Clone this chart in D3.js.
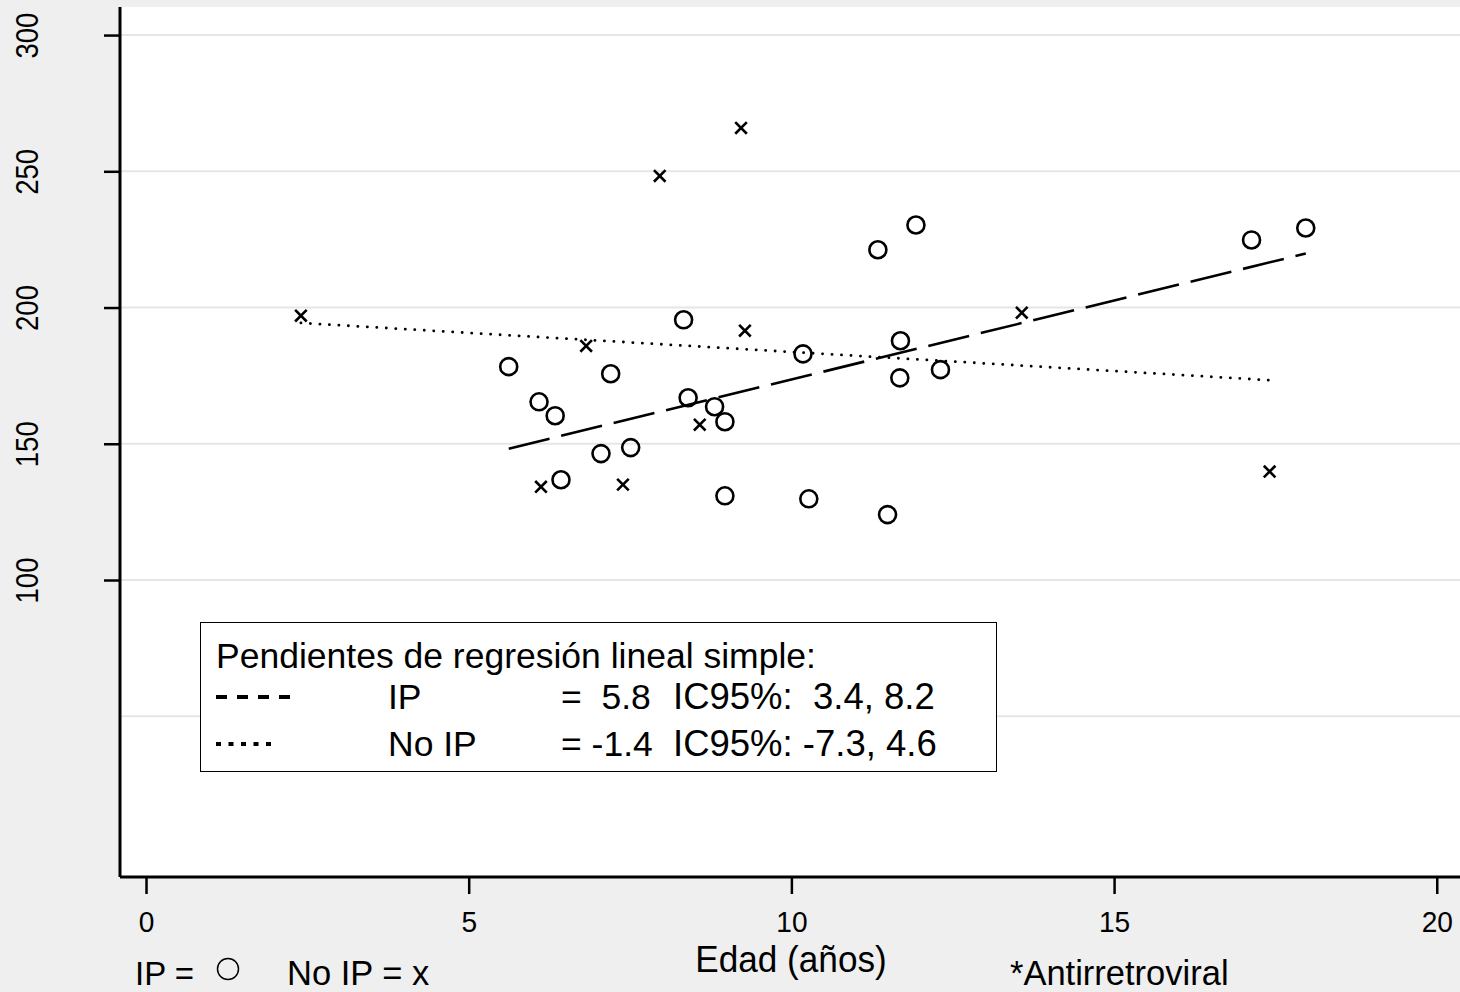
<!DOCTYPE html>
<html>
<head>
<meta charset="utf-8">
<script src="https://cdn.jsdelivr.net/npm/d3@7"></script>
<style>
  html, body { margin: 0; padding: 0; background: #efefef; }
  svg { display: block; font-family: "Liberation Sans", Arial, sans-serif; }
  text { white-space: pre; }
</style>
</head>
<body>
<svg id="chart" width="1460" height="992"></svg>
<script>
"use strict";

// IP group (circles): age in years, value
var ipAge = [5.62, 6.09, 6.34, 6.43, 7.05, 7.20, 7.51, 8.33, 8.40, 8.81, 8.97,
             8.97, 10.18, 10.27, 11.34, 11.49, 11.68, 11.69, 11.93, 12.31, 17.13, 17.97];
var ipVal = [178.3, 165.4, 160.3, 136.8, 146.4, 175.7, 148.6, 195.5, 166.9, 163.6, 158.1,
             130.9, 183.0, 129.8, 221.2, 124.0, 174.2, 187.8, 230.3, 177.2, 224.8, 229.2];

// No IP group (crosses)
var noIpAge = [2.40, 6.12, 6.82, 7.39, 7.96, 8.58, 9.22, 9.28, 13.57, 17.41];
var noIpVal = [197.0, 134.2, 185.9, 135.0, 248.3, 157.0, 265.9, 191.5, 198.1, 139.8];

// fitted lines: [intercept, slope]
var ipFit   = [115.6, 5.8];
var noIpFit = [197.7, -1.4];

var xTicks = [0, 5, 10, 15, 20];
var yTicks = [100, 150, 200, 250, 300];
var yGrid  = [50, 100, 150, 200, 250, 300];

var legendTitle = "Pendientes de regresión lineal simple:";
var legendRows = [
  { name: "IP",    slope: "=  5.8", ci: "IC95%:  3.4, 8.2", dash: "11,10",  w: 4, len: 75 },
  { name: "No IP", slope: "= -1.4", ci: "IC95%: -7.3, 4.6", dash: "5,7.5",  w: 4, len: 56 }
];

var W = 1460, H = 992;
var plot = { x0: 120, x1: 1460, y0: 7, y1: 877 };

var svg = d3.select("#chart");

var x = d3.scaleLinear().domain([-0.403, 20.36]).range([plot.x0, plot.x1]);
var y = d3.scaleLinear().domain([-9.0, 310.3]).range([plot.y1, plot.y0]);

// outer background + plot region
svg.append("rect").attr("width", W).attr("height", H).attr("fill", "#efefef");
svg.append("rect")
  .attr("x", plot.x0).attr("y", plot.y0)
  .attr("width", plot.x1 - plot.x0).attr("height", plot.y1 - plot.y0)
  .attr("fill", "#fff");

// gridlines
svg.append("g").selectAll("line")
  .data(yGrid).enter()
  .append("line")
    .attr("x1", plot.x0).attr("x2", plot.x1)
    .attr("y1", function(d) { return y(d); })
    .attr("y2", function(d) { return y(d); })
    .attr("stroke", "#e6e6e6")
    .attr("stroke-width", 2);

// y axis
var yAxis = d3.axisLeft(y).tickValues(yTicks).tickSize(16).tickPadding(0).tickFormat("");
var gy = svg.append("g")
  .attr("transform", "translate(" + plot.x0 + ",0)")
  .call(yAxis);
gy.select(".domain").attr("d", "M0," + plot.y0 + "V" + plot.y1)
  .attr("stroke", "#000").attr("stroke-width", 3);
gy.selectAll(".tick line").attr("stroke", "#000").attr("stroke-width", 2.5);
gy.selectAll(".tick").append("text")
  .attr("transform", "translate(-82,0) rotate(-90) scale(0.95,1.08)")
  .attr("text-anchor", "middle")
  .attr("fill", "#000")
  .style("font-size", "29px")
  .text(function(d) { return d; });

// x axis
var xAxis = d3.axisBottom(x).tickValues(xTicks).tickSize(17).tickPadding(0).tickFormat("");
var gx = svg.append("g")
  .attr("transform", "translate(0," + plot.y1 + ")")
  .call(xAxis);
gx.select(".domain").attr("d", "M" + plot.x0 + ",0H" + plot.x1)
  .attr("stroke", "#000").attr("stroke-width", 3);
gx.selectAll(".tick line").attr("stroke", "#000").attr("stroke-width", 2.5);
gx.selectAll(".tick").append("text")
  .attr("transform", "translate(0,55) scale(0.97,1)")
  .attr("text-anchor", "middle")
  .attr("fill", "#000")
  .style("font-size", "29px")
  .text(function(d) { return d; });

svg.append("text")
  .attr("transform", "translate(791,972) scale(0.95,1)")
  .attr("text-anchor", "middle")
  .style("font-size", "37px")
  .text("Edad (años)");

// regression lines
function fitLine(fit, ages) {
  var ext = d3.extent(ages);
  return ext.map(function(a) { return [a, fit[0] + fit[1] * a]; });
}
var line = d3.line()
  .x(function(d) { return x(d[0]); })
  .y(function(d) { return y(d[1]); });

svg.append("path")
  .datum(fitLine(ipFit, ipAge))
  .attr("d", line)
  .attr("fill", "none").attr("stroke", "#000")
  .attr("stroke-width", 2.6)
  .attr("stroke-dasharray", "42,12");

svg.append("path")
  .datum(fitLine(noIpFit, noIpAge))
  .attr("d", line)
  .attr("fill", "none").attr("stroke", "#000")
  .attr("stroke-width", 2.8)
  .attr("stroke-linecap", "round")
  .attr("stroke-dasharray", "0.1,9.4");

// IP circles
svg.append("g").selectAll("circle")
  .data(d3.zip(ipAge, ipVal)).enter()
  .append("circle")
    .attr("cx", function(d) { return x(d[0]); })
    .attr("cy", function(d) { return y(d[1]); })
    .attr("r", 8.5)
    .attr("fill", "none")
    .attr("stroke", "#000")
    .attr("stroke-width", 2.6);

// No IP crosses
var cs = 5.8;
svg.append("g").selectAll("path")
  .data(d3.zip(noIpAge, noIpVal)).enter()
  .append("path")
    .attr("d", function(d) {
      var cx = x(d[0]), cy = y(d[1]);
      return "M" + (cx - cs) + "," + (cy - cs) + "L" + (cx + cs) + "," + (cy + cs)
           + "M" + (cx - cs) + "," + (cy + cs) + "L" + (cx + cs) + "," + (cy - cs);
    })
    .attr("stroke", "#000")
    .attr("stroke-width", 2.6);

// legend box
var lg = svg.append("g").attr("transform", "translate(200,622)");
lg.append("rect")
  .attr("x", 0.5).attr("y", 0.5)
  .attr("width", 796).attr("height", 149)
  .attr("fill", "#fff")
  .attr("stroke", "#000")
  .attr("stroke-width", 1);
lg.append("text")
  .attr("x", 16).attr("y", 46)
  .style("font-size", "35.5px")
  .text(legendTitle);

var rows = lg.selectAll("g.row")
  .data(legendRows).enter()
  .append("g")
    .attr("class", "row")
    .attr("transform", function(d, i) { return "translate(0," + (87 + i * 47) + ")"; });
rows.append("line")
  .attr("x1", 16).attr("x2", function(d) { return 16 + d.len; })
  .attr("y1", -12).attr("y2", -12)
  .attr("stroke", "#000")
  .attr("stroke-width", function(d) { return d.w; })
  .attr("stroke-dasharray", function(d) { return d.dash; });
rows.append("text").attr("x", 188).style("font-size", "35.5px")
  .text(function(d) { return d.name; });
rows.append("text").attr("x", 361).style("font-size", "35.5px")
  .text(function(d) { return d.slope; });
rows.append("text").attr("x", 473).style("font-size", "36.5px")
  .text(function(d) { return d.ci; });

// bottom notes
svg.append("text")
  .attr("x", 135).attr("y", 985)
  .style("font-size", "33px")
  .text("IP =");
svg.append("circle")
  .attr("cx", 228).attr("cy", 969).attr("r", 10.5)
  .attr("fill", "none").attr("stroke", "#000").attr("stroke-width", 1.5);
svg.append("text")
  .attr("x", 287).attr("y", 985)
  .style("font-size", "34.5px")
  .text("No IP = x");
svg.append("text")
  .attr("x", 1010).attr("y", 985)
  .style("font-size", "34.5px")
  .text("*Antirretroviral");
</script>
</body>
</html>
